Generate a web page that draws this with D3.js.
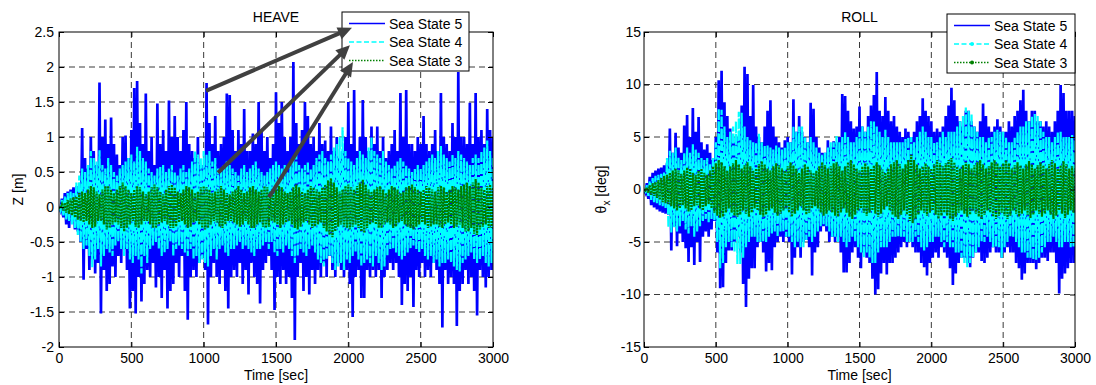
<!DOCTYPE html>
<html><head><meta charset="utf-8">
<script src="https://cdn.jsdelivr.net/npm/d3@7"></script>
<style>body{margin:0;background:#fff}svg{display:block;background:#fff}text{font-family:"Liberation Sans",Arial,sans-serif}</style>
</head><body><svg id="c" width="1096" height="385"></svg>
<script>
// sample spacing of every series [sec]
const timeStep = 10;
const seriesNames = ["Sea State 5", "Sea State 4", "Sea State 3"];
const xTicks = [0, 500, 1000, 1500, 2000, 2500, 3000];
const xTickLabels = ["0", "500", "1000", "1500", "2000", "2500", "3000"];
const heaveTicks = [-2, -1.5, -1, -0.5, 0, 0.5, 1, 1.5, 2, 2.5];
const heaveTickLabels = ["-2", "-1.5", "-1", "-0.5", "0", "0.5", "1", "1.5", "2", "2.5"];
const rollTicks = [-15, -10, -5, 0, 5, 10, 15];
const rollTickLabels = ["-15", "-10", "-5", "0", "5", "10", "15"];

// HEAVE Z [m]
const heaveSS5 = [
0,-0.05,0.12,-0.15,0.2,-0.25,0.22,-0.3,0.25,-0.2,0.28,-0.32,0.3,-0.35,0.25,-0.5,1.13,-1.04,0.7,-0.6,
0.55,-0.9,1.0,-0.75,0.8,-0.95,0.6,-0.8,1.78,-1.52,1.0,-0.9,1.25,-1.2,0.9,-1.1,1.28,-0.85,0.9,-1.0,
0.75,-0.7,0.6,-0.8,1.0,-0.6,1.02,-0.9,0.7,-1.45,1.1,-1.2,1.7,-1.52,1.8,-1.0,1.2,-1.35,0.9,-1.1,
1.62,-0.9,0.8,-1.0,1.0,-0.8,0.6,-1.15,1.48,-1.0,0.9,-1.3,1.1,-0.9,0.8,-1.45,1.52,-1.2,1.0,-1.1,
1.3,-0.8,1.0,-1.0,0.8,-0.7,1.1,-1.2,1.5,-1.61,0.9,-1.0,0.8,-0.9,0.7,-1.0,1.0,-0.8,0.6,-0.7,
0.6,-0.9,1.77,-1.68,1.2,-1.0,0.9,-0.8,1.3,-1.0,0.8,-1.1,0.9,-0.9,1.0,-1.2,1.62,-1.45,1.6,-1.0,
1.1,-0.9,0.8,-1.0,1.1,-0.8,0.9,-1.1,1.4,-0.9,0.8,-1.25,0.8,-0.8,1.05,-1.0,0.9,-1.1,1.5,-1.38,
1.1,-0.9,0.8,-0.8,1.0,-0.7,0.7,-0.9,0.9,-1.47,1.64,-1.0,1.2,-1.1,1.5,-0.9,1.0,-1.1,0.8,-1.0,
1.0,-1.3,2.07,-1.9,1.2,-1.0,0.9,-0.8,1.1,-1.2,1.5,-1.0,1.3,-1.25,0.9,-0.9,1.0,-1.1,0.8,-0.9,
1.2,-1.0,0.9,-0.8,0.95,-1.0,0.8,-0.7,1.15,-0.9,0.8,-1.0,1.0,-0.8,0.7,-0.9,0.8,-1.0,1.0,-0.9,
1.5,-1.1,0.9,-1.57,1.67,-1.0,0.8,-0.9,1.0,-1.3,1.53,-1.3,1.0,-0.9,0.8,-1.0,1.15,-0.9,0.9,-1.0,
1.15,-0.9,0.8,-1.3,1.0,-1.0,0.7,-0.9,0.8,-0.8,0.9,-0.9,1.1,-0.8,0.8,-1.0,1.63,-1.4,1.0,-1.1,
1.67,-1.2,0.9,-1.0,0.9,-1.43,0.8,-0.9,1.0,-1.0,0.9,-0.8,1.3,-1.0,0.9,-0.9,0.8,-1.0,0.9,-0.8,
1.1,-0.9,0.8,-1.1,1.63,-1.72,1.0,-0.9,0.9,-1.1,0.8,-1.0,1.2,-1.1,1.0,-1.7,1.93,-1.2,1.0,-1.1,
1.0,-0.9,0.9,-1.1,1.49,-1.0,0.9,-1.2,1.63,-1.55,1.0,-0.9,1.1,-1.0,0.9,-1.15,1.4,-1.0,1.1,-0.9,
1.0];
const heaveSS4 = [
0,-0.05,0.1,-0.12,0.15,-0.18,0.2,-0.2,0.22,-0.25,0.2,-0.3,0.35,-0.4,0.45,-0.5,0.55,-0.6,0.5,-0.55,
0.6,-0.7,0.8,-0.86,0.7,-0.75,0.65,-0.6,0.81,-0.85,0.6,-0.7,0.55,-0.6,0.7,-0.65,0.6,-0.7,0.5,-0.55,
0.45,-0.5,0.55,-0.6,0.6,-0.7,0.65,-0.6,0.7,-0.75,0.75,-0.8,0.65,-0.7,0.86,-0.75,0.8,-0.95,0.7,-0.7,
0.65,-0.8,0.55,-0.6,0.5,-0.55,0.45,-0.5,0.55,-0.6,0.57,-0.7,0.6,-0.65,0.5,-0.6,0.55,-0.5,0.6,-0.7,
0.5,-0.6,0.45,-0.55,0.55,-0.6,0.6,-0.65,0.5,-0.7,0.55,-0.6,0.65,-0.75,0.8,-0.7,0.75,-0.8,0.7,-0.75,
0.8,-0.8,0.75,-0.85,0.8,-0.7,0.65,-0.6,0.7,-0.75,0.55,-0.6,0.5,-0.55,0.6,-0.65,0.65,-0.7,0.6,-0.6,
0.55,-0.6,0.5,-0.55,0.45,-0.5,0.55,-0.6,0.6,-0.55,0.5,-0.6,0.55,-0.65,0.6,-0.7,0.65,-0.6,0.55,-0.6,
0.5,-0.55,0.45,-0.5,0.5,-0.6,0.55,-0.5,0.6,-0.65,0.65,-0.7,0.6,-0.6,0.55,-0.65,0.6,-0.55,0.5,-0.6,
0.65,-0.7,0.7,-0.8,0.75,-0.7,0.6,-0.6,0.55,-0.65,0.6,-0.7,0.65,-0.6,0.55,-0.55,0.6,-0.65,0.7,-0.75,
0.75,-0.8,0.8,-0.85,0.7,-0.75,0.65,-0.7,0.75,-0.8,0.85,-0.9,0.9,-0.85,1.0,-0.8,1.14,-0.9,0.8,-0.75,
0.7,-0.8,0.65,-0.7,0.6,-0.65,0.7,-0.75,0.8,-0.85,0.75,-0.8,0.7,-0.75,0.85,-0.8,1.0,-0.85,0.8,-0.7,
0.75,-0.8,0.7,-0.9,0.8,-0.85,0.65,-0.7,0.6,-0.6,0.55,-0.6,0.6,-0.65,0.65,-0.7,0.7,-0.75,0.65,-0.7,
0.6,-0.65,0.55,-0.6,0.5,-0.55,0.55,-0.6,0.6,-0.65,0.55,-0.6,0.6,-0.7,0.65,-0.75,0.7,-0.7,0.75,-0.8,
0.7,-0.75,0.8,-0.85,0.87,-0.8,0.75,-0.8,0.7,-0.75,0.65,-0.8,0.75,-0.85,0.7,-0.9,0.8,-0.92,0.75,-0.8,
0.7,-0.75,0.65,-0.7,0.6,-0.65,0.7,-0.75,0.75,-0.8,0.7,-0.75,0.8,-0.7,0.85,-0.8,0.95,-0.85,0.8,-0.8,
0.7];
const heaveSS3 = [
0,-0.02,0.04,-0.05,0.06,-0.08,0.1,-0.1,0.12,-0.12,0.14,-0.15,0.15,-0.18,0.2,-0.2,0.22,-0.22,0.2,-0.2,
0.25,-0.25,0.3,-0.3,0.28,-0.28,0.22,-0.2,0.18,-0.2,0.25,-0.25,0.3,-0.32,0.3,-0.3,0.25,-0.25,0.2,-0.22,
0.25,-0.25,0.3,-0.3,0.35,-0.35,0.3,-0.3,0.25,-0.25,0.2,-0.2,0.25,-0.28,0.3,-0.3,0.28,-0.25,0.22,-0.2,
0.18,-0.2,0.22,-0.25,0.28,-0.3,0.32,-0.3,0.28,-0.25,0.22,-0.22,0.18,-0.2,0.25,-0.25,0.3,-0.3,0.32,-0.3,
0.28,-0.28,0.22,-0.22,0.2,-0.2,0.25,-0.25,0.3,-0.3,0.28,-0.28,0.25,-0.22,0.2,-0.2,0.22,-0.25,0.28,-0.3,
0.3,-0.32,0.28,-0.3,0.25,-0.25,0.2,-0.2,0.22,-0.22,0.25,-0.28,0.3,-0.3,0.25,-0.25,0.2,-0.2,0.18,-0.2,
0.22,-0.22,0.25,-0.25,0.3,-0.28,0.25,-0.25,0.2,-0.2,0.22,-0.25,0.28,-0.3,0.3,-0.3,0.25,-0.25,0.22,-0.22,
0.25,-0.28,0.3,-0.3,0.28,-0.28,0.22,-0.2,0.2,-0.22,0.25,-0.25,0.3,-0.3,0.28,-0.25,0.22,-0.22,0.2,-0.2,
0.22,-0.25,0.28,-0.3,0.32,-0.32,0.28,-0.28,0.22,-0.22,0.2,-0.2,0.25,-0.25,0.3,-0.3,0.28,-0.28,0.25,-0.25,
0.22,-0.22,0.28,-0.3,0.32,-0.35,0.38,-0.4,0.41,-0.43,0.35,-0.35,0.28,-0.28,0.22,-0.25,0.25,-0.28,0.3,-0.3,
0.32,-0.32,0.28,-0.28,0.25,-0.25,0.3,-0.3,0.35,-0.35,0.39,-0.37,0.32,-0.3,0.25,-0.25,0.22,-0.22,0.25,-0.25,
0.28,-0.3,0.3,-0.3,0.25,-0.25,0.2,-0.22,0.25,-0.25,0.3,-0.3,0.28,-0.28,0.25,-0.22,0.2,-0.2,0.22,-0.25,
0.28,-0.28,0.3,-0.3,0.32,-0.32,0.28,-0.28,0.25,-0.25,0.22,-0.22,0.25,-0.25,0.3,-0.3,0.28,-0.28,0.25,-0.25,
0.22,-0.25,0.28,-0.28,0.3,-0.3,0.28,-0.25,0.22,-0.22,0.25,-0.25,0.3,-0.3,0.28,-0.28,0.25,-0.25,0.3,-0.3,
0.32,-0.35,0.35,-0.35,0.3,-0.3,0.35,-0.38,0.4,-0.4,0.35,-0.32,0.28,-0.28,0.25,-0.25,0.3,-0.3,0.32,-0.3,
0.28];

// ROLL theta_x [deg]
const rollSS5 = [
0,-0.3,0.6,-0.9,1.2,-1.5,1.6,-1.7,1.8,-1.9,2.0,-2.1,2.1,-2.2,2.3,-2.3,2.5,-2.4,5.8,-5.8,
3.5,-3.5,5.4,-5.4,4.0,-4.2,3.5,-5.0,6.1,-5.6,7.1,-6.9,5.0,-5.5,7.75,-7.2,5.5,-5.0,6.9,-6.9,
4.5,-4.5,3.8,-4.0,4.3,-4.5,3.5,-3.8,2.8,-3.0,5.0,-6.0,10.4,-9.4,11.3,-9.3,8.3,-7.0,7.0,-5.8,
5.8,-5.8,4.5,-5.0,5.0,-4.5,5.0,-6.0,8.0,-9.0,11.7,-11.2,11.0,-8.5,7.0,-7.5,9.95,-7.5,6.0,-5.5,
5.0,-5.0,4.5,-6.0,6.0,-7.8,7.5,-7.0,8.5,-7.7,6.0,-5.5,5.0,-5.0,4.5,-4.5,4.0,-5.0,4.7,-4.5,
5.0,-5.0,4.5,-8.1,8.6,-6.5,5.5,-5.5,7.0,-6.5,5.5,-5.0,5.0,-4.8,4.5,-5.5,8.25,-8.2,7.7,-6.0,
5.0,-5.5,4.0,-4.0,3.5,-3.5,3.5,-4.0,4.7,-5.0,4.0,-4.5,4.6,-5.0,4.5,-4.5,5.0,-6.0,9.1,-7.9,
8.9,-7.9,7.5,-7.0,6.5,-6.0,5.8,-5.5,6.0,-6.5,7.9,-7.5,6.0,-6.0,5.5,-6.5,7.0,-7.0,8.0,-8.5,
9.0,-10.0,11.2,-9.5,7.5,-8.0,7.0,-7.0,8.8,-8.1,7.5,-7.0,6.5,-7.0,7.0,-6.5,6.0,-6.0,5.5,-5.5,
5.0,-5.0,5.8,-5.5,5.5,-5.0,5.0,-5.5,5.5,-6.0,6.5,-6.0,7.0,-7.0,8.7,-7.4,7.5,-8.2,7.0,-7.0,
6.5,-6.5,5.5,-6.0,5.8,-6.5,5.5,-5.5,6.0,-6.0,7.0,-6.5,8.0,-7.5,9.7,-9.1,8.5,-8.0,7.0,-7.0,
6.5,-6.5,6.0,-6.5,7.5,-7.0,7.5,-7.4,6.5,-6.5,6.0,-6.0,5.5,-6.0,6.5,-6.8,8.2,-7.0,7.0,-6.5,
6.0,-6.0,5.5,-5.5,6.0,-6.0,6.7,-6.0,6.0,-6.5,5.5,-6.0,5.5,-5.5,6.5,-6.0,6.0,-6.0,7.0,-7.0,
7.5,-7.5,8.5,-8.6,9.5,-8.0,7.5,-7.0,6.5,-7.0,7.5,-7.0,7.5,-7.6,6.5,-7.0,6.5,-6.5,6.0,-6.5,
6.5,-6.8,6.0,-6.0,5.5,-6.0,6.5,-7.0,7.5,-9.9,9.95,-8.5,9.2,-8.0,7.5,-7.5,7.5,-7.0,7.5,-7.0,
7.0];
const rollSS4 = [
0,-0.2,0.4,-0.6,0.8,-1.0,1.1,-1.2,1.3,-1.3,1.4,-1.5,1.5,-1.6,1.7,-1.8,3.0,-3.6,3.7,-4.1,
3.5,-3.6,4.0,-4.0,3.1,-3.5,2.8,-3.0,3.5,-3.8,4.0,-4.2,3.5,-3.5,4.3,-4.5,3.8,-4.0,3.5,-3.5,
3.0,-3.0,2.8,-2.8,3.0,-3.2,2.5,-2.8,3.0,-3.0,4.5,-5.0,7.7,-7.5,7.6,-7.0,6.0,-5.5,5.0,-5.0,
5.5,-5.5,6.0,-6.0,6.5,-7.1,7.4,-7.1,7.3,-6.5,6.0,-5.5,5.0,-5.0,4.7,-4.5,4.5,-4.5,4.5,-5.0,
5.3,-5.0,4.5,-5.0,4.2,-5.0,4.2,-4.5,4.0,-4.2,3.8,-4.0,4.2,-4.5,4.0,-4.0,3.8,-4.0,4.0,-4.5,
4.5,-4.5,4.5,-5.0,6.0,-5.5,5.5,-5.0,6.0,-5.5,6.0,-5.5,5.0,-4.8,4.5,-4.5,5.0,-5.0,4.5,-4.5,
4.0,-4.0,3.5,-3.5,3.3,-3.3,3.5,-3.5,4.0,-4.0,4.5,-4.5,4.5,-4.5,5.1,-5.0,4.5,-4.5,5.0,-5.0,
5.5,-5.5,5.0,-5.0,4.5,-4.5,4.5,-5.0,5.0,-5.5,5.5,-6.0,6.0,-6.5,5.5,-6.0,6.0,-6.5,6.5,-7.0,
6.5,-7.0,6.0,-6.0,5.5,-5.5,5.0,-5.5,5.7,-5.5,5.0,-5.0,4.5,-4.5,4.5,-4.5,4.5,-4.5,4.5,-4.5,
4.5,-4.5,4.8,-5.0,5.0,-5.0,5.0,-5.0,4.5,-4.5,5.0,-5.0,5.5,-5.5,6.0,-5.8,5.5,-5.5,5.0,-5.0,
5.0,-5.0,4.5,-4.5,4.5,-4.5,5.0,-5.0,5.5,-5.5,5.0,-5.0,5.5,-5.5,5.5,-5.5,5.5,-6.0,6.0,-6.0,
6.5,-6.5,7.0,-7.0,7.8,-7.4,7.5,-7.0,7.2,-6.5,6.0,-6.0,5.5,-5.5,5.0,-5.0,5.0,-5.0,4.5,-4.5,
5.0,-5.0,5.0,-5.5,5.5,-5.5,5.7,-5.5,5.5,-6.5,5.5,-5.5,5.0,-5.0,4.5,-4.5,4.5,-4.5,5.0,-5.0,
5.5,-5.5,6.0,-6.0,6.0,-6.0,6.5,-6.5,6.5,-6.5,7.0,-6.7,7.2,-6.7,7.0,-6.5,6.5,-6.0,5.5,-5.5,
5.0,-5.0,5.0,-5.0,4.5,-4.5,5.0,-5.0,5.5,-5.5,5.5,-5.5,5.0,-5.0,5.0,-5.0,5.0,-5.5,5.2,-5.5,
5.0];
const rollSS3 = [
0,-0.1,0.2,-0.3,0.4,-0.5,0.6,-0.6,0.7,-0.8,0.9,-1.0,1.1,-1.2,1.3,-1.3,1.4,-1.4,1.6,-1.6,
1.8,-1.8,2.0,-2.0,1.8,-1.8,1.5,-1.5,1.8,-1.8,2.1,-2.1,2.0,-2.0,1.6,-1.6,1.4,-1.5,1.8,-1.8,
2.0,-2.0,1.6,-1.6,1.4,-1.4,1.8,-1.8,2.2,-2.2,2.5,-2.5,2.8,-2.7,2.6,-2.6,2.2,-2.2,1.8,-1.8,
2.2,-2.2,2.5,-2.5,2.8,-2.6,2.4,-2.4,2.0,-2.0,2.3,-2.3,2.6,-2.6,2.2,-2.2,1.8,-1.8,2.0,-2.0,
2.4,-2.4,2.7,-2.6,2.4,-2.4,2.0,-2.0,1.8,-1.8,2.2,-2.2,2.5,-2.5,2.3,-2.3,2.0,-2.0,1.8,-1.8,
2.2,-2.2,2.6,-2.6,2.3,-2.3,2.0,-2.0,1.6,-1.6,2.0,-2.0,2.4,-2.4,2.2,-2.2,1.8,-1.8,1.6,-1.6,
1.8,-1.8,2.2,-2.2,2.6,-2.5,2.3,-2.3,2.0,-2.0,2.2,-2.2,2.5,-2.5,2.6,-2.6,2.2,-2.2,1.8,-1.8,
2.2,-2.2,2.6,-2.6,2.8,-2.8,2.4,-2.4,2.0,-2.0,1.8,-1.8,2.2,-2.2,2.5,-2.5,2.2,-2.2,2.0,-2.0,
2.3,-2.3,2.6,-2.6,2.3,-2.3,1.9,-1.9,1.6,-1.6,2.0,-2.0,2.4,-2.4,2.6,-2.6,2.8,-2.8,2.4,-2.4,
2.0,-2.0,2.4,-2.4,2.8,-3.0,3.3,-3.2,2.8,-2.8,2.4,-2.4,2.0,-2.0,2.2,-2.2,2.5,-2.5,2.2,-2.2,
2.0,-2.0,2.4,-2.4,2.8,-2.8,2.5,-2.5,2.2,-2.2,2.5,-2.5,2.8,-2.8,3.0,-3.0,2.6,-2.6,2.2,-2.2,
2.0,-2.0,2.3,-2.3,2.6,-2.6,2.4,-2.4,2.0,-2.0,2.3,-2.3,2.6,-2.6,2.8,-2.8,2.4,-2.4,2.0,-2.0,
2.2,-2.2,2.6,-2.6,2.8,-2.8,2.5,-2.5,2.2,-2.2,2.5,-2.5,2.8,-2.8,2.5,-2.5,2.0,-2.0,2.3,-2.3,
2.6,-2.6,2.3,-2.3,2.0,-2.0,2.4,-2.4,2.7,-2.7,2.4,-2.4,2.0,-2.0,2.3,-2.3,2.6,-2.6,2.3,-2.3,
2.0,-2.0,2.4,-2.4,2.8,-2.8,2.5,-2.5,2.0,-2.0,2.3,-2.3,2.7,-2.7,2.4,-2.4,2.0,-2.0,2.2,-2.2,
2.0];

// annotation arrows on HEAVE, [t0, z0, t1, z1] in data units
const heaveArrows = [[1016, 1.66, 2025, 2.56], [1099, 0.49, 2011, 2.31], [1452, 0.14, 2032, 2.07]];

const svg = d3.select("#c");
const TOP = 32, BOT = 347, FS = 14;
const styles = [
  {color: "#0000ff", dash: null, width: 2.7},
  {color: "#00ffff", dash: "10,2", width: 2.2},
  {color: "#008000", dash: "2,1", width: 2.2}
];

function panel(o) {
  const g = svg.append("g");
  const x = d3.scaleLinear().domain([0, 3000]).range([o.x0, o.x1]);
  const y = d3.scaleLinear().domain([o.yTicks[0], o.yTicks[o.yTicks.length - 1]]).range([BOT, TOP]);
  const clipId = "clip" + o.id;
  svg.append("clipPath").attr("id", clipId).append("rect")
    .attr("x", o.x0).attr("y", TOP).attr("width", o.x1 - o.x0).attr("height", BOT - TOP);

  // grid
  g.append("g").selectAll("line").data(xTicks.slice(1, -1)).join("line")
    .attr("x1", d => x(d)).attr("x2", d => x(d)).attr("y1", TOP).attr("y2", BOT)
    .attr("stroke", "#3a3a3a").attr("stroke-width", 1).attr("stroke-dasharray", "6,4");
  g.append("g").selectAll("line").data(o.yTicks.slice(1, -1)).join("line")
    .attr("y1", d => y(d)).attr("y2", d => y(d)).attr("x1", o.x0).attr("x2", o.x1)
    .attr("stroke", "#3a3a3a").attr("stroke-width", 1).attr("stroke-dasharray", "6,4");

  // data
  const line = d3.line().x((d, i) => x(i * timeStep)).y(d => y(d));
  const dg = g.append("g").attr("clip-path", `url(#${clipId})`);
  o.series.forEach((s, k) => {
    dg.append("path").attr("d", line(s)).attr("fill", "none")
      .attr("stroke", styles[k].color).attr("stroke-width", styles[k].width)
      .attr("stroke-dasharray", styles[k].dash).attr("stroke-linejoin", "miter");
  });

  // axes
  const fmtY = d => o.yLabels[o.yTicks.indexOf(d)];
  const fmtX = d => xTickLabels[xTicks.indexOf(d)];
  const styleAxis = sel => {
    sel.select(".domain").remove();
    sel.selectAll("line").attr("stroke", "#000");
    sel.selectAll("text").attr("font-size", FS).attr("fill", "#000")
      .attr("font-family", '"Liberation Sans", Arial, sans-serif');
  };
  g.append("g").attr("transform", `translate(0,${BOT})`)
    .call(d3.axisBottom(x).tickValues(xTicks).tickFormat(fmtX).tickSizeInner(-5).tickSizeOuter(0).tickPadding(6)).call(styleAxis);
  g.append("g").attr("transform", `translate(0,${TOP})`)
    .call(d3.axisTop(x).tickValues(xTicks).tickFormat("").tickSizeInner(-5).tickSizeOuter(0)).call(styleAxis);
  g.append("g").attr("transform", `translate(${o.x0},0)`)
    .call(d3.axisLeft(y).tickValues(o.yTicks).tickFormat(fmtY).tickSizeInner(-5).tickSizeOuter(0).tickPadding(o.pad)).call(styleAxis);
  g.append("g").attr("transform", `translate(${o.x1},0)`)
    .call(d3.axisRight(y).tickValues(o.yTicks).tickFormat("").tickSizeInner(-5).tickSizeOuter(0)).call(styleAxis);

  g.append("rect").attr("x", o.x0).attr("y", TOP).attr("width", o.x1 - o.x0).attr("height", BOT - TOP)
    .attr("fill", "none").attr("stroke", "#000").attr("stroke-width", 1);

  const cx = (o.x0 + o.x1) / 2;
  g.append("text").attr("x", cx).attr("y", 22).attr("text-anchor", "middle").attr("font-size", FS).text(o.title);
  g.append("text").attr("x", cx).attr("y", 380).attr("text-anchor", "middle").attr("font-size", FS).text("Time [sec]");
  o.yTitle(g.append("text").attr("transform", `translate(${o.yTitleX},${(TOP + BOT) / 2}) rotate(-90)`)
    .attr("text-anchor", "middle").attr("font-size", FS));

  // legend
  const L = o.legend;
  const lg = g.append("g");
  lg.append("rect").attr("x", L.x).attr("y", L.y).attr("width", L.w).attr("height", L.h)
    .attr("fill", "#fff").attr("stroke", "#000").attr("stroke-width", 1);
  seriesNames.forEach((name, k) => {
    const yy = L.y + 11.5 + k * 18.5;
    const sx0 = L.x + 7, sx1 = L.x + 43;
    lg.append("line").attr("x1", sx0).attr("x2", sx1).attr("y1", yy).attr("y2", yy)
      .attr("stroke", styles[k].color).attr("stroke-width", 1.5)
      .attr("stroke-dasharray", k === 1 ? "5,2.5" : (k === 2 ? "1.5,1.5" : null));
    if (L.markers && k > 0) {
      lg.append("circle").attr("cx", (sx0 + sx1) / 2).attr("cy", yy).attr("r", 2).attr("fill", styles[k].color);
    }
    lg.append("text").attr("x", L.x + 47).attr("y", yy + 5).attr("font-size", FS).text(name);
  });

  return {g, x, y};
}

const left = panel({
  id: "h", x0: 59, x1: 493, yTicks: heaveTicks, yLabels: heaveTickLabels, pad: 5,
  series: [heaveSS5, heaveSS4, heaveSS3], title: "HEAVE", yTitleX: 23,
  yTitle: t => t.text("Z [m]"),
  legend: {x: 342, y: 12, w: 127, h: 59, markers: false}
});
panel({
  id: "r", x0: 644, x1: 1075, yTicks: rollTicks, yLabels: rollTickLabels, pad: 3,
  series: [rollSS5, rollSS4, rollSS3], title: "ROLL", yTitleX: 606,
  yTitle: t => { t.append("tspan").text("θ"); t.append("tspan").attr("dy", 4).attr("font-size", 10).text("x");
                 t.append("tspan").attr("dy", -4).text(" [deg]"); },
  legend: {x: 947, y: 14, w: 128, h: 59, markers: true}
});

// arrows
const ag = svg.append("g");
heaveArrows.forEach(a => {
  const x0 = left.x(a[0]), y0 = left.y(a[1]), x1 = left.x(a[2]), y1 = left.y(a[3]);
  const ang = Math.atan2(y1 - y0, x1 - x0), hl = 14, hw = 6.5;
  const bx = x1 - hl * Math.cos(ang), by = y1 - hl * Math.sin(ang);
  ag.append("line").attr("x1", x0).attr("y1", y0).attr("x2", bx + 2 * Math.cos(ang)).attr("y2", by + 2 * Math.sin(ang))
    .attr("stroke", "#404040").attr("stroke-width", 4);
  const px = -Math.sin(ang) * hw, py = Math.cos(ang) * hw;
  ag.append("path").attr("d", `M${x1},${y1}L${bx + px},${by + py}L${bx - px},${by - py}Z`).attr("fill", "#404040");
});
</script></body></html>
